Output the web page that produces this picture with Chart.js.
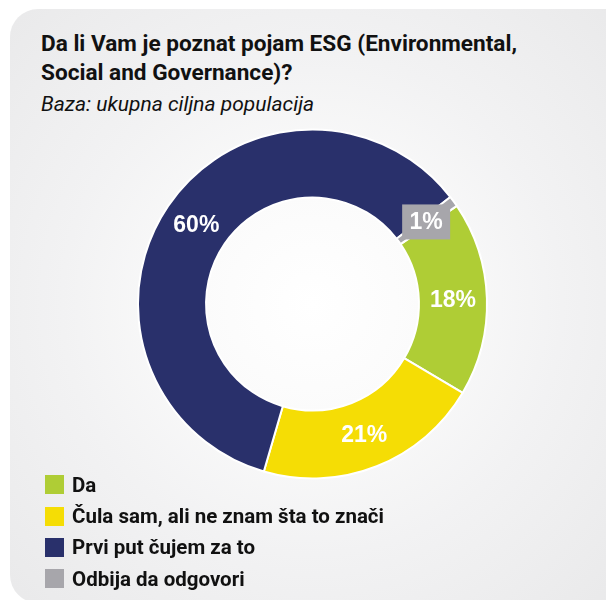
<!DOCTYPE html>
<html>
<head>
<meta charset="utf-8">
<script src="https://cdn.jsdelivr.net/npm/chart.js@4"></script>
<style>
  html, body { margin: 0; padding: 0; background: #ffffff; }
  body { width: 606px; height: 600px; position: relative; overflow: hidden; font-family: Roboto, "Liberation Sans", sans-serif; }
  .card {
    position: absolute; left: 10px; top: 9px; width: 630px; height: 594px;
    border-radius: 28px;
    background: radial-gradient(circle at 302px 295px, #ffffff 0px, #fbfbfb 110px, #f2f2f3 250px, #e9e9ea 430px);
  }
  .head { position: absolute; left: 41px; top: 29px; color: #111111; }
  .title { font-weight: 700; font-size: 22.6px; line-height: 29px; }
  .sub { font-style: italic; font-size: 21px; line-height: 29px; margin-top: 3px; }
  canvas { position: absolute; left: 0; top: 0; }
  #legend { position: absolute; left: 45px; top: 469px; margin: 0; padding: 0; list-style: none; }
  #legend li { display: flex; align-items: center; height: 31.4px; font-weight: 700; font-size: 20.5px; color: #111111; }
  #legend span { display: inline-block; width: 19px; height: 19px; margin-right: 8px; }
</style>
</head>
<body>
<div class="card"></div>
<div class="head">
  <div class="title">Da li Vam je poznat pojam ESG (Environmental,<br>Social and Governance)?</div>
  <div class="sub">Baza: ukupna ciljna populacija</div>
</div>
<canvas id="esgChart" width="606" height="600"></canvas>
<ul id="legend"></ul>
<script>
const labels = ["Da", "Čula sam, ali ne znam šta to znači", "Prvi put čujem za to", "Odbija da odgovori"];
const values = [18, 21, 60, 1];
const colors = ["#afcd35", "#f5dd05", "#29306b", "#a7a6ab"];

// legend
const legendEl = document.getElementById("legend");
labels.forEach((txt, i) => {
  const li = document.createElement("li");
  const box = document.createElement("span");
  box.style.background = colors[i];
  li.appendChild(box);
  li.appendChild(document.createTextNode(txt));
  legendEl.appendChild(li);
});

// percent labels on the ring, small slices get a box
const sliceLabels = {
  id: "sliceLabels",
  afterDatasetsDraw(chart) {
    const ctx = chart.ctx;
    const meta = chart.getDatasetMeta(0);
    ctx.save();
    ctx.font = "bold 23px 'Liberation Sans', Arial, sans-serif";
    ctx.textAlign = "center";
    ctx.textBaseline = "middle";
    meta.data.forEach((arc, i) => {
      const p = arc.tooltipPosition();
      const txt = values[i] + "%";
      if (values[i] < 5) {
        ctx.fillStyle = colors[i];
        ctx.fillRect(p.x - 24, p.y - 17, 48, 35);
      }
      ctx.fillStyle = "#ffffff";
      ctx.fillText(txt, p.x, p.y + 1);
    });
    ctx.restore();
  }
};

new Chart(document.getElementById("esgChart"), {
  type: "doughnut",
  data: {
    labels: labels,
    datasets: [{
      data: values,
      backgroundColor: colors,
      borderColor: "#ffffff",
      borderWidth: 2
    }]
  },
  options: {
    responsive: false,
    animation: false,
    rotation: 55.8,
    cutout: "61%",
    layout: { padding: { left: 137, right: 118, top: 128, bottom: 120 } },
    plugins: {
      legend: { display: false },
      tooltip: { enabled: false }
    }
  },
  plugins: [sliceLabels]
});
</script>
</body>
</html>
